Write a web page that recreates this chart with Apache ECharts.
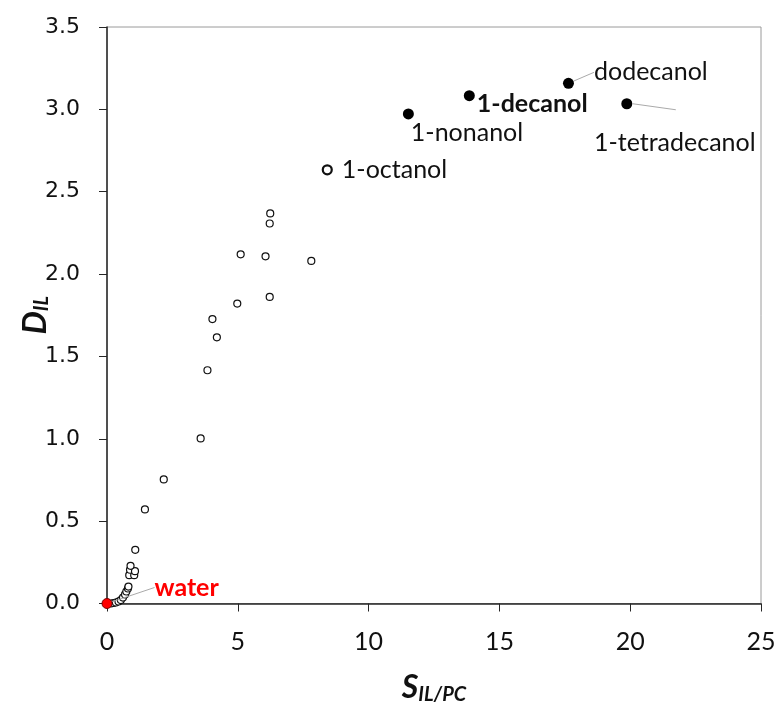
<!DOCTYPE html>
<html>
<head>
<meta charset="utf-8">
<script src="https://cdn.jsdelivr.net/npm/echarts@6/dist/echarts.min.js"></script>
<style>
  html, body { margin: 0; padding: 0; background: #fff; }
  #chart { width: 776px; height: 702px; }
</style>
</head>
<body>
<div id="chart"></div>
<script>
// small open circles (S_IL/PC, D_IL)
const sOpen = [0.15, 0.25, 0.34, 0.44, 0.53, 0.61, 0.69, 0.74, 0.80, 0.82,
  0.85, 1.04, 0.88, 1.07, 0.90, 1.08, 1.45, 2.17, 3.58, 3.84, 4.03, 4.20,
  4.98, 5.11, 6.06, 6.22, 6.24, 6.22, 7.81]
const dOpen = [0.000, 0.003, 0.006, 0.012, 0.021, 0.036, 0.055, 0.073, 0.091, 0.103,
  0.172, 0.172, 0.205, 0.196, 0.229, 0.326, 0.571, 0.753, 1.002, 1.416, 1.727, 1.616,
  1.821, 2.120, 2.108, 1.861, 2.368, 2.307, 2.080]

// labelled alcohols
const alcNames = ['1-octanol', '1-nonanol', '1-decanol', 'dodecanol', '1-tetradecanol']
const sAlc = [8.42, 11.52, 13.85, 17.64, 19.87]
const dAlc = [2.633, 2.972, 3.083, 3.158, 3.034]

// water
const sWater = [0]
const dWater = [0]

const xTicks = [0, 5, 10, 15, 20, 25]
const yTicks = [0, 0.5, 1.0, 1.5, 2.0, 2.5, 3.0, 3.5]

const FONT = 'Lato'
const LBL = 25

// label placement per alcohol (move = labelLayout dx/dy)
const alcLabel = {
  '1-octanol': { label: { distance: 9 }, open: true, move: [0, 0] },
  '1-nonanol': { label: { distance: 0 }, move: [-3, 19] },
  '1-decanol': { label: { distance: 2, fontWeight: 'bold' }, move: [0, 8] },
  'dodecanol': { label: { distance: 5, padding: [0, 0, 0, 5] }, move: [10, -11], line: true },
  '1-tetradecanol': { label: { position: 'bottom', distance: 5 }, move: [48, 16], lead: [6, 49, 6] }
}

const alcData = alcNames.map((n, i) => {
  const cfg = alcLabel[n]
  const item = {
    name: n,
    value: [sAlc[i], dAlc[i]],
    label: Object.assign({ show: true, position: 'right', formatter: n, color: '#111', fontFamily: FONT, fontSize: LBL }, cfg.label),
    labelLine: { show: !!cfg.line, lineStyle: { color: '#aaa', width: 1 } }
  }
  if (cfg.open) {
    item.symbolSize = 9
    item.itemStyle = { color: '#fff', borderColor: '#111', borderWidth: 2.2, opacity: 1 }
  }
  return item
})

const chart = echarts.init(document.getElementById('chart'))

chart.setOption({
  animation: false,
  backgroundColor: '#fff',
  grid: {
    left: 107, right: 15, top: 27, bottom: 98.5,
    outerBoundsMode: 'none', containLabel: false,
    show: true, borderColor: '#9a9a9a', borderWidth: 1
  },
  xAxis: {
    type: 'value', min: 0, max: 25, interval: 5,
    name: '{m|S}{s|IL/PC}',
    nameLocation: 'middle', nameGap: 67,
    nameTextStyle: {
      rich: {
        m: { fontFamily: FONT, fontSize: 32, fontWeight: 'bold', fontStyle: 'italic', color: '#111' },
        s: { fontFamily: FONT, fontSize: 20, fontWeight: 'bold', fontStyle: 'italic', color: '#111', padding: [14, 0, 0, 0] }
      }
    },
    axisLine: { lineStyle: { color: '#262626', width: 1.5 } },
    axisTick: { show: true, length: 8, lineStyle: { color: '#262626', width: 1 } },
    axisLabel: {
      margin: 26, fontFamily: FONT, fontSize: 25, color: '#111',
      formatter: v => xTicks.includes(v) ? String(v) : ''
    },
    splitLine: { show: false }
  },
  yAxis: {
    type: 'value', min: 0, max: 3.5, interval: 0.5,
    name: '{m|D}{s|IL}',
    nameLocation: 'middle', nameGap: 55, nameRotate: 90,
    nameMoveOverlap: false,
    nameTextStyle: {
      rich: {
        m: { fontFamily: FONT, fontSize: 33, fontWeight: 'bold', fontStyle: 'italic', color: '#111' },
        s: { fontFamily: FONT, fontSize: 20, fontWeight: 'bold', fontStyle: 'italic', color: '#111', padding: [14, 0, 0, 0] }
      }
    },
    axisLine: { show: true, lineStyle: { color: '#262626', width: 1.5 } },
    axisTick: { show: true, length: 8, lineStyle: { color: '#262626', width: 1 } },
    axisLabel: {
      margin: 27, fontFamily: 'DejaVu Sans', fontSize: 22, color: '#111',
      formatter: v => yTicks.includes(v) ? v.toFixed(1) : ''
    },
    splitLine: { show: false }
  },
  series: [
    {
      name: 'others',
      type: 'scatter',
      symbol: 'circle',
      symbolSize: 7,
      itemStyle: { color: '#fff', borderColor: '#111', borderWidth: 1.2, opacity: 1 },
      data: sOpen.map((s, i) => [s, dOpen[i]]),
      z: 2
    },
    {
      name: 'alcohols',
      type: 'scatter',
      symbol: 'circle',
      symbolSize: 11,
      itemStyle: { color: '#000', opacity: 1 },
      data: alcData,
      labelLayout: p => {
        const m = alcLabel[alcNames[p.dataIndex]].move
        return { dx: m[0], dy: m[1] }
      },
      z: 3
    },
    {
      name: 'water',
      type: 'scatter',
      symbol: 'circle',
      symbolSize: 10,
      itemStyle: { color: '#ff0000', borderColor: '#7a0000', borderWidth: 1, opacity: 1 },
      data: sWater.map((s, i) => [s, dWater[i]]),
      label: {
        show: true, formatter: 'water', position: 'right', distance: 5,
        color: '#ff0000', fontFamily: FONT, fontSize: LBL, fontWeight: 'bold',
        padding: [0, 0, 0, 6]
      },
      labelLine: { show: true, lineStyle: { color: '#aaa', width: 1 } },
      labelLayout: { dx: 31, dy: -16 },
      z: 4
    }
  ]
})

// leader line for 1-tetradecanol, anchored at its data point
const tIdx = alcNames.indexOf('1-tetradecanol')
const tp = chart.convertToPixel({ gridIndex: 0 }, [sAlc[tIdx], dAlc[tIdx]])
const lead = alcLabel['1-tetradecanol'].lead
chart.setOption({
  graphic: [{
    type: 'line', z: 1, silent: true,
    shape: { x1: tp[0] + lead[0], y1: tp[1], x2: tp[0] + lead[1], y2: tp[1] + lead[2] },
    style: { stroke: '#aaa', lineWidth: 1 }
  }]
})
</script>
</body>
</html>
